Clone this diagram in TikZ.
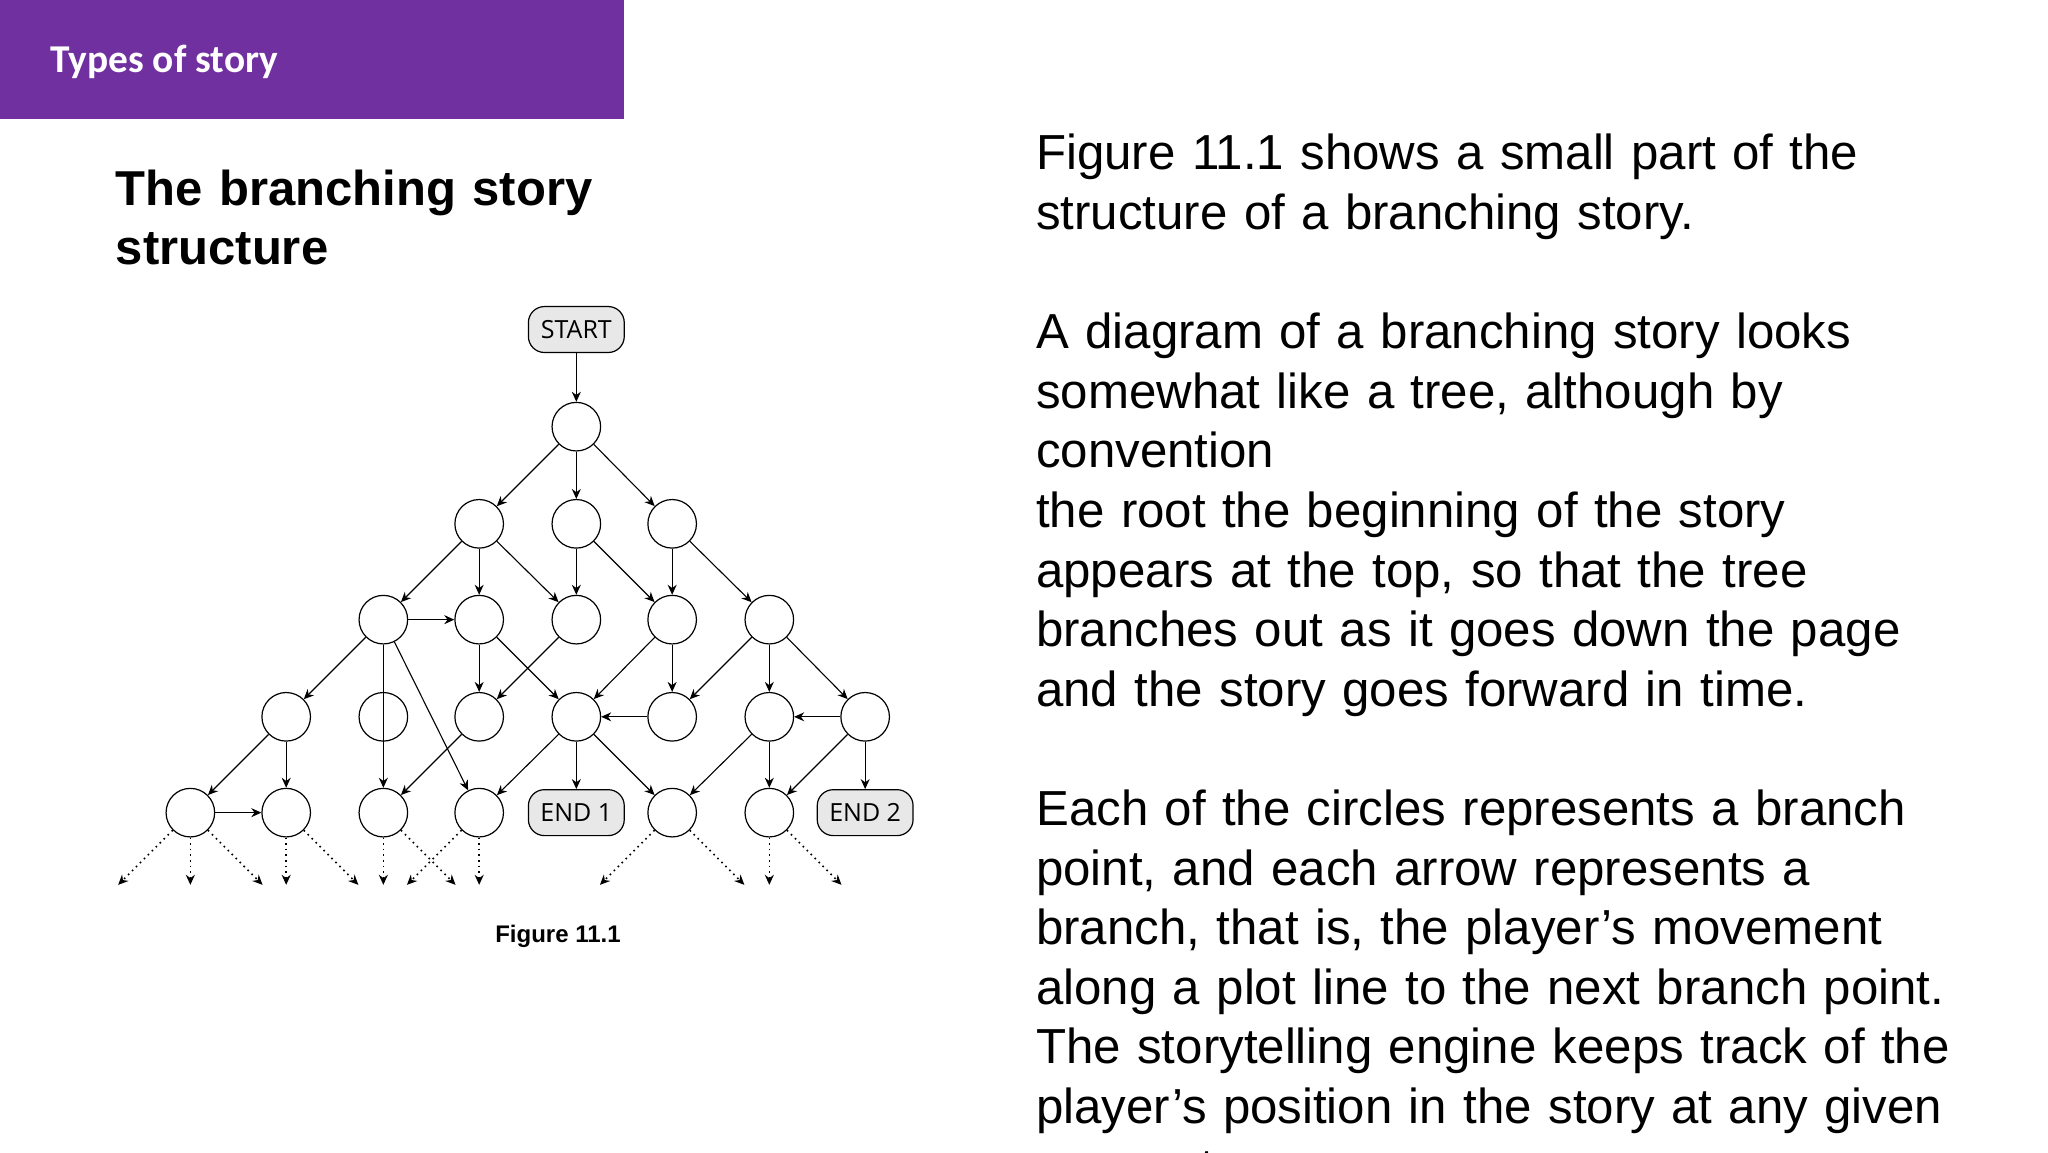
\documentclass[tikz,border=0pt]{standalone}
\usepackage{fontspec}
\setmainfont{Liberation Sans}
\newfontfamily\titlefont{Carlito}
\newfontfamily\boxfont{Open Sans}
\usetikzlibrary{arrows.meta}
\definecolor{hdr}{HTML}{7030A0}
\newcommand{\jline}[1]{\makebox[\linewidth][s]{#1}\\}
\newcommand{\pline}[1]{#1\\}
\begin{document}
\begin{tikzpicture}[x=0.6564pt,y=-0.6564pt,
  bp/.style={circle,draw,line width=0.6pt,minimum size=37*0.6564pt,inner sep=0pt},
  term/.style={draw,line width=0.6pt,fill=gray!18,rounded corners=8pt,minimum width=73*0.6564pt,minimum height=35*0.6564pt,inner sep=0pt,font=\boxfont\fontsize{12.5}{14}\selectfont},
  ar/.style={-{Stealth[length=5pt,width=4.5pt]},line width=0.55pt},
  dt/.style={-{Stealth[length=5pt,width=4.5pt]},line width=0.8pt,dotted}]
\useasboundingbox (0,0) rectangle (1560,878);
\clip (0,0) rectangle (1560,878);
\fill[hdr] (0,0) rectangle (475,91);
\node[anchor=base west,text=white,font=\titlefont\bfseries\fontsize{19.7}{22}\selectfont] (title) at (33,55) {Types of story};
\node[anchor=north west,inner sep=0pt,text width=320pt,align=left,font=\bfseries\fontsize{24.5}{29.5}\selectfont] (head) at (88,129) {\jline{The branching story}structure};
\node[anchor=north west,inner sep=0pt,text width=458pt,align=left,font=\fontsize{24.6}{29.8}\selectfont] (para) at (789,102) {%
\jline{Figure 11.1 shows a small part of the}
\pline{structure of a branching story.}
\pline{\strut}
\jline{A diagram of a branching story looks}
\jline{somewhat like a tree, although by}
\pline{convention}
\jline{the root the beginning of the story}
\jline{appears at the top, so that the tree}
\jline{branches out as it goes down the page}
\pline{and the story goes forward in time.}
\pline{\strut}
\jline{Each of the circles represents a branch}
\jline{point, and each arrow represents a}
\jline{branch, that is, the player’s movement}
\jline{along a plot line to the next branch point.}
\jline{The storytelling engine keeps track of the}
\jline{player’s position in the story at any given}
moment.};
\node[font=\bfseries\fontsize{12}{14}\selectfont] (cap) at (425,713) {Figure 11.1};
% nodes
\node[term] (start) at (439,251) {START};
\node[bp] (a) at (439,325) {};
\node[bp] (b1) at (365,399) {};\node[bp] (b2) at (439,399) {};\node[bp] (b3) at (512,399) {};
\node[bp] (c1) at (292,472) {};\node[bp] (c2) at (365,472) {};\node[bp] (c3) at (439,472) {};\node[bp] (c4) at (512,472) {};\node[bp] (c5) at (586,472) {};
\node[bp] (d1) at (218,546) {};\node[bp] (d2) at (292,546) {};\node[bp] (d3) at (365,546) {};\node[bp] (d4) at (439,546) {};\node[bp] (d5) at (512,546) {};\node[bp] (d6) at (586,546) {};\node[bp] (d7) at (659,546) {};
\node[bp] (e1) at (145,619) {};\node[bp] (e2) at (218,619) {};\node[bp] (e3) at (292,619) {};\node[bp] (e4) at (365,619) {};
\node[term] (end1) at (439,619) {END 1};
\node[bp] (e6) at (512,619) {};\node[bp] (e7) at (586,619) {};
\node[term] (end2) at (659,619) {END 2};
% edges
\foreach \u/\v in {start/a,a/b1,a/b2,a/b3,b1/c1,b1/c2,b1/c3,b2/c3,b2/c4,b3/c4,b3/c5,c1/c2,c1/d1,c1/e3,c1/e4,c2/d3,c2/d4,c3/d3,c4/d4,c4/d5,c5/d5,c5/d6,c5/d7,d5/d4,d7/d6,d1/e1,d1/e2,e1/e2,d3/e3,d4/e4,d4/end1,d4/e6,d6/e6,d6/e7,d7/e7,d7/end2}
  \draw[ar] (\u) -- (\v);
% dotted continuations
\foreach \n/\dx in {e1/-55,e1/0,e1/55,e2/0,e2/55,e3/0,e3/55,e4/-55,e4/0,e6/-55,e6/55,e7/0,e7/55}{
  \coordinate (t-\n\dx) at ([xshift=\dx*0.6564pt]\n.center |- 0,674);
  \draw[dt] (\n) -- (t-\n\dx);
}
\end{tikzpicture}
\end{document}
